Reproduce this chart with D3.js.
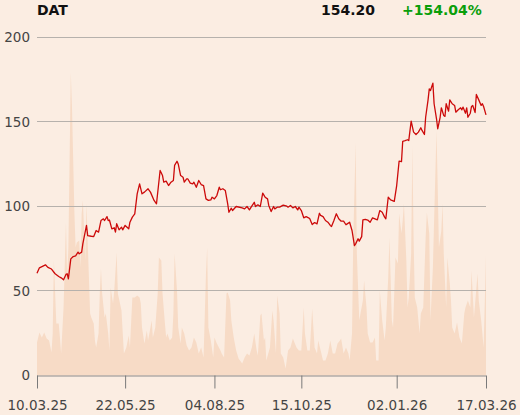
<!DOCTYPE html>
<html><head><meta charset="utf-8">
<script src="https://cdn.jsdelivr.net/npm/d3@7"></script>
<style>
html,body{margin:0;padding:0;background:#fbede2;}
svg{display:block;font-family:"DejaVu Sans",sans-serif;}
</style></head>
<body><svg id="c" width="520" height="415"></svg>
<script>
const ticker = "DAT";
const lastPrice = "154.20";
const changePct = "+154.04%";
const yTicks = [0, 50, 100, 150, 200];
const xTickLabels = ["10.03.25","22.05.25","04.08.25","15.10.25","02.01.26","17.03.26"];

const priceDates = ["2025-03-10","2025-03-12","2025-03-17","2025-03-19","2025-03-22","2025-03-25","2025-03-28","2025-03-30","2025-04-01","2025-04-03","2025-04-04","2025-04-05","2025-04-07","2025-04-09","2025-04-11","2025-04-13","2025-04-14","2025-04-16","2025-04-17","2025-04-20","2025-04-21","2025-04-24","2025-04-26","2025-04-28","2025-04-30","2025-05-02","2025-05-04","2025-05-05","2025-05-07","2025-05-08","2025-05-09","2025-05-11","2025-05-13","2025-05-14","2025-05-15","2025-05-17","2025-05-19","2025-05-20","2025-05-22","2025-05-25","2025-05-26","2025-05-28","2025-05-30","2025-06-01","2025-06-03","2025-06-05","2025-06-07","2025-06-10","2025-06-12","2025-06-15","2025-06-17","2025-06-20","2025-06-22","2025-06-23","2025-06-25","2025-06-27","2025-06-29","2025-07-01","2025-07-02","2025-07-04","2025-07-05","2025-07-07","2025-07-09","2025-07-10","2025-07-12","2025-07-13","2025-07-15","2025-07-17","2025-07-18","2025-07-20","2025-07-22","2025-07-24","2025-07-26","2025-07-28","2025-07-30","2025-08-01","2025-08-02","2025-08-04","2025-08-06","2025-08-08","2025-08-09","2025-08-11","2025-08-13","2025-08-15","2025-08-16","2025-08-18","2025-08-19","2025-08-22","2025-08-27","2025-08-29","2025-08-31","2025-09-02","2025-09-03","2025-09-06","2025-09-07","2025-09-09","2025-09-11","2025-09-13","2025-09-15","2025-09-17","2025-09-18","2025-09-20","2025-09-22","2025-09-23","2025-09-25","2025-09-27","2025-09-30","2025-10-03","2025-10-04","2025-10-06","2025-10-08","2025-10-10","2025-10-12","2025-10-13","2025-10-15","2025-10-17","2025-10-19","2025-10-21","2025-10-22","2025-10-24","2025-10-26","2025-10-28","2025-10-30","2025-10-31","2025-11-02","2025-11-04","2025-11-06","2025-11-08","2025-11-09","2025-11-11","2025-11-13","2025-11-15","2025-11-17","2025-11-19","2025-11-21","2025-11-22","2025-11-24","2025-11-26","2025-11-28","2025-11-29","2025-12-01","2025-12-02","2025-12-04","2025-12-05","2025-12-07","2025-12-09","2025-12-11","2025-12-13","2025-12-15","2025-12-17","2025-12-19","2025-12-21","2025-12-23","2025-12-24","2025-12-26","2025-12-28","2025-12-31","2026-01-02","2026-01-04","2026-01-06","2026-01-07","2026-01-09","2026-01-11","2026-01-12","2026-01-14","2026-01-16","2026-01-18","2026-01-20","2026-01-22","2026-01-23","2026-01-25","2026-01-26","2026-01-28","2026-01-29","2026-01-30","2026-02-01","2026-02-02","2026-02-04","2026-02-05","2026-02-07","2026-02-08","2026-02-10","2026-02-11","2026-02-12","2026-02-14","2026-02-15","2026-02-17","2026-02-19","2026-02-20","2026-02-22","2026-02-24","2026-02-25","2026-02-26","2026-02-28","2026-03-01","2026-03-02","2026-03-04","2026-03-05","2026-03-06","2026-03-08","2026-03-09","2026-03-11","2026-03-13","2026-03-14","2026-03-15","2026-03-17"];
const priceValues = [60.5,63.7,65.5,64.0,63.0,60.2,58.6,57.8,56.6,59.8,60.2,57.2,69.0,70.4,70.8,73.0,72.0,73.0,78.0,88.8,82.8,82.4,82.2,85.8,84.8,91.7,92.7,91.7,94.0,91.7,92.0,86.8,87.4,84.8,89.8,86.2,87.8,86.2,88.8,86.8,90.7,93.7,95.6,107.5,113.4,107.5,108.5,110.5,108.5,103.6,101.6,121.3,118.3,114.4,115.0,112.4,114.4,115.4,124.3,126.8,125.2,118.3,117.3,114.4,116.3,116.3,113.8,113.4,114.4,111.4,115.4,113.0,112.4,104.5,103.6,103.9,105.5,104.5,106.5,111.4,109.9,110.5,109.5,101.6,96.6,99.0,97.6,100.0,99.2,98.6,100.0,98.0,99.2,102.5,100.0,101.0,100.0,107.9,105.5,104.5,100.6,97.0,100.0,98.6,99.6,99.6,100.8,100.2,99.6,100.6,99.2,100.0,98.0,99.6,97.6,93.3,94.0,93.3,92.7,89.3,90.5,89.7,96.0,94.7,94.0,91.7,90.7,88.8,88.2,91.7,95.7,92.7,91.3,91.3,89.2,89.7,90.7,85.8,76.9,77.9,80.9,79.5,82.2,92.1,92.4,92.0,90.7,93.3,92.7,92.1,97.6,96.6,93.7,92.7,105.5,103.9,103.0,112.4,126.8,126.6,138.6,139.0,139.5,139.0,150.5,144.0,142.6,144.0,146.6,145.0,142.6,152.8,163.1,169.6,168.6,173.0,160.8,151.9,146.0,152.8,158.4,153.8,153.3,160.8,156.4,163.1,160.8,159.8,155.8,157.2,158.4,157.2,158.8,155.2,158.4,152.8,155.2,159.2,159.8,155.6,166.3,163.1,159.8,160.8,159.2,154.2];

const volumeDates = ["2025-03-10","2025-03-12","2025-03-14","2025-03-16","2025-03-18","2025-03-20","2025-03-22","2025-03-23","2025-03-24","2025-03-26","2025-03-28","2025-03-29","2025-03-30","2025-04-01","2025-04-03","2025-04-04","2025-04-05","2025-04-07","2025-04-08","2025-04-10","2025-04-11","2025-04-12","2025-04-14","2025-04-15","2025-04-16","2025-04-17","2025-04-19","2025-04-20","2025-04-22","2025-04-23","2025-04-24","2025-04-26","2025-04-27","2025-04-28","2025-04-30","2025-05-01","2025-05-02","2025-05-03","2025-05-05","2025-05-06","2025-05-08","2025-05-09","2025-05-10","2025-05-12","2025-05-13","2025-05-15","2025-05-16","2025-05-19","2025-05-21","2025-05-23","2025-05-25","2025-05-26","2025-05-28","2025-05-30","2025-06-01","2025-06-03","2025-06-04","2025-06-05","2025-06-07","2025-06-09","2025-06-10","2025-06-12","2025-06-13","2025-06-14","2025-06-16","2025-06-18","2025-06-19","2025-06-21","2025-06-22","2025-06-24","2025-06-25","2025-06-26","2025-06-28","2025-06-30","2025-07-01","2025-07-02","2025-07-04","2025-07-05","2025-07-07","2025-07-08","2025-07-10","2025-07-12","2025-07-14","2025-07-16","2025-07-18","2025-07-20","2025-07-22","2025-07-24","2025-07-26","2025-07-28","2025-07-29","2025-07-30","2025-08-01","2025-08-03","2025-08-04","2025-08-06","2025-08-09","2025-08-10","2025-08-12","2025-08-14","2025-08-15","2025-08-17","2025-08-18","2025-08-20","2025-08-22","2025-08-24","2025-08-27","2025-08-29","2025-08-31","2025-09-02","2025-09-04","2025-09-06","2025-09-08","2025-09-09","2025-09-11","2025-09-12","2025-09-14","2025-09-15","2025-09-16","2025-09-19","2025-09-21","2025-09-22","2025-09-24","2025-09-25","2025-09-27","2025-09-28","2025-09-30","2025-10-02","2025-10-04","2025-10-06","2025-10-08","2025-10-11","2025-10-13","2025-10-15","2025-10-17","2025-10-18","2025-10-20","2025-10-22","2025-10-24","2025-10-26","2025-10-28","2025-10-29","2025-10-31","2025-11-02","2025-11-04","2025-11-06","2025-11-08","2025-11-10","2025-11-12","2025-11-14","2025-11-16","2025-11-17","2025-11-19","2025-11-21","2025-11-23","2025-11-24","2025-11-26","2025-11-27","2025-11-29","2025-11-30","2025-12-02","2025-12-03","2025-12-05","2025-12-06","2025-12-08","2025-12-09","2025-12-11","2025-12-13","2025-12-15","2025-12-16","2025-12-18","2025-12-19","2025-12-21","2025-12-23","2025-12-24","2025-12-26","2025-12-27","2025-12-29","2025-12-30","2026-01-01","2026-01-03","2026-01-04","2026-01-06","2026-01-07","2026-01-08","2026-01-10","2026-01-11","2026-01-12","2026-01-14","2026-01-15","2026-01-16","2026-01-17","2026-01-19","2026-01-21","2026-01-22","2026-01-24","2026-01-26","2026-01-27","2026-01-29","2026-01-30","2026-02-01","2026-02-02","2026-02-04","2026-02-05","2026-02-06","2026-02-08","2026-02-09","2026-02-10","2026-02-12","2026-02-13","2026-02-15","2026-02-16","2026-02-17","2026-02-19","2026-02-21","2026-02-23","2026-02-25","2026-02-27","2026-02-28","2026-03-02","2026-03-04","2026-03-05","2026-03-07","2026-03-08","2026-03-10","2026-03-11","2026-03-13","2026-03-14","2026-03-15","2026-03-17"];
const volumeValues = [33,43,38,43,37,35,23,42,115,52,52,38,22,68,153,98,128,303,268,162,128,133,135,108,162,175,115,172,98,62,58,52,35,28,42,82,107,82,58,62,42,25,88,72,85,123,82,65,22,28,40,28,78,78,80,78,72,48,32,45,35,48,55,38,48,82,118,115,82,52,38,42,35,38,62,122,85,48,32,48,42,30,25,28,38,33,22,28,18,102,128,48,35,18,38,32,25,22,18,82,83,75,55,38,25,17,12,18,22,20,28,42,25,20,60,62,35,38,15,28,65,55,22,80,62,22,18,7,25,28,37,28,25,25,68,42,25,25,67,28,22,35,25,15,15,22,35,22,22,32,35,37,22,28,22,15,42,135,233,122,55,62,75,95,68,42,33,33,38,15,15,85,55,35,48,98,138,55,48,118,112,162,142,155,172,115,68,78,122,230,138,78,68,42,62,68,138,163,142,55,108,155,245,188,128,145,172,122,68,118,92,75,48,42,53,38,32,62,68,75,68,105,58,72,102,75,55,42,28,120];

const parseISO = d3.timeParse("%Y-%m-%d");
const parseTick = d3.timeParse("%d.%m.%y");
const nP = Math.min(priceDates.length, priceValues.length);
const nV = Math.min(volumeDates.length, volumeValues.length);
const price = priceDates.slice(0, nP).map((d, i) => ({date: parseISO(d), value: priceValues[i]}));
const volume = volumeDates.slice(0, nV).map((d, i) => ({date: parseISO(d), value: volumeValues[i]}));
const xTicks = xTickLabels.map(parseTick);

const svg = d3.select("#c");
const mLeft = 37, mRight = 486, mTop = 37.5, mBottom = 375.5;

const x = d3.scaleTime().domain([xTicks[0], xTicks[xTicks.length - 1]]).range([mLeft, mRight]);
const y = d3.scaleLinear().domain([0, 200]).range([mBottom, mTop]);
const yVol = d3.scaleLinear().domain([0, 338]).range([mBottom, mTop]);

// volume area
svg.append("path").datum(volume)
  .attr("fill", "#f7dbc6")
  .attr("d", d3.area().x(d => x(d.date)).y0(yVol(0)).y1(d => yVol(d.value)));

// gridlines
const gy = svg.append("g").attr("transform", `translate(${mLeft},0)`)
  .call(d3.axisLeft(y).tickValues(yTicks).tickSize(-(mRight - mLeft)).tickFormat(""));
gy.select(".domain").remove();
gy.selectAll(".tick").attr("transform", d => `translate(0,${Math.round(y(d)) - 0.5})`);
gy.selectAll(".tick line").attr("stroke", d => d === 0 ? "none" : "#b6b1ac").attr("stroke-width", 1);

// y labels
const yl = svg.append("g").attr("transform", `translate(30,0)`)
  .call(d3.axisLeft(y).tickValues(yTicks).tickSize(0).tickPadding(0));
yl.select(".domain").remove();
yl.selectAll("text").attr("font-size", 13.5).attr("fill", "#444").attr("font-family", "DejaVu Sans");

// x axis
const xa = svg.append("g").attr("transform", `translate(0,${Math.round(y(0)) - 0.5})`)
  .call(d3.axisBottom(x).tickValues(xTicks).tickSize(13).tickPadding(11.5)
    .tickFormat((d, i) => xTickLabels[i]));
xa.select(".domain").attr("stroke", "#8c8c8c").attr("d", `M${mLeft},0.5H${mRight}`);
xa.selectAll(".tick line").attr("stroke", "#7a7a7a");
xa.selectAll("text").attr("font-size", 13.5).attr("fill", "#444").attr("font-family", "DejaVu Sans");

// price line
svg.append("path").datum(price)
  .attr("fill", "none").attr("stroke", "#cc0a0a").attr("stroke-width", 1.3)
  .attr("stroke-linejoin", "round")
  .attr("d", d3.line().x(d => x(d.date)).y(d => y(d.value)));

// header
svg.append("text").attr("x", 37).attr("y", 15).attr("font-size", 14).attr("font-weight", "bold")
  .attr("fill", "#111").text(ticker);
svg.append("text").attr("x", 375).attr("y", 15).attr("font-size", 14).attr("font-weight", "bold")
  .attr("text-anchor", "end").attr("fill", "#111").text(lastPrice);
svg.append("text").attr("x", 402).attr("y", 15).attr("font-size", 14).attr("font-weight", "bold")
  .attr("fill", "#0a9e0a").text(changePct);
</script></body></html>
